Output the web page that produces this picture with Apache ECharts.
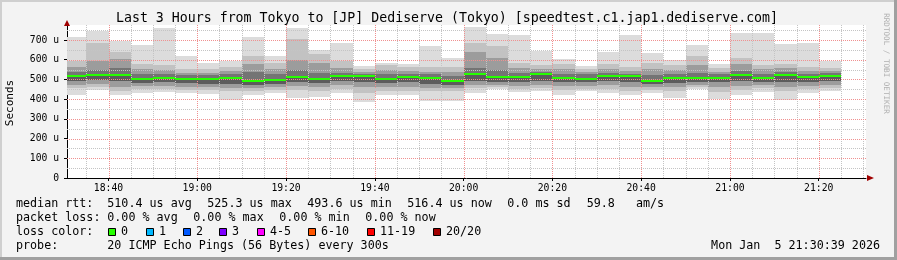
<!DOCTYPE html>
<html><head><meta charset="utf-8">
<script src="https://cdn.jsdelivr.net/npm/echarts@6/dist/echarts.min.js"></script>
<style>html,body{margin:0;padding:0;background:#f3f3f3}#c{width:897px;height:260px}</style>
</head><body><div id="c"></div>
<script>
// ---- data (microseconds) ----
const barStart = ["18:30","18:35","18:40","18:45","18:50","18:55","19:00","19:05","19:10","19:15","19:20","19:25","19:30","19:35","19:40","19:45","19:50","19:55","20:00","20:05","20:10","20:15","20:20","20:25","20:30","20:35","20:40","20:45","20:50","20:55","21:00","21:05","21:10","21:15","21:20"];
const stepMinutes = 5;
const axisStart = "18:30:39", axisEnd = "21:30:39";
const xTickLabels = ["18:40","19:00","19:20","19:40","20:00","20:20","20:40","21:00","21:20"];
const yTickValues = [0,100,200,300,400,500,600,700];
const yTop = 776;
const pingMax = [716,746,695,675,763,619,585,595,716,619,761,648,686,568,585,578,670,607,764,730,725,644,602,566,639,724,634,597,676,576,736,736,678,684,594];
const pingHi2 = [595,685,640,580,575,555,552,565,620,582,705,630,593,552,572,565,565,565,686,670,585,573,580,555,580,563,585,575,620,560,610,572,580,563,560];
const pingHi3 = [565,595,605,555,550,535,535,545,580,555,600,585,560,540,550,545,540,540,640,610,560,555,555,540,555,545,555,550,575,540,580,555,560,545,545];
const pingHi4 = [540,550,560,530,530,520,520,525,540,525,550,535,535,530,525,530,525,515,560,550,535,540,530,525,535,530,520,530,535,525,545,530,540,530,535];
const medianRtt = [518,524,524,503,508,504,503,507,493,498,514,504,517,518,502,514,509,494,526,514,514,526,507,504,516,516,494,505,507,507,524,509,520,510,517];
const pingLo4 = [490,495,490,480,485,480,478,475,470,478,485,480,490,485,480,485,475,470,490,485,485,490,485,485,490,485,475,480,485,485,490,485,485,485,490];
const pingLo3 = [470,475,462,465,465,460,460,455,455,462,465,460,470,460,460,462,455,455,470,470,465,470,465,465,470,462,460,460,470,460,465,470,462,465,470];
const pingLo2 = [455,460,440,450,450,445,445,440,440,448,445,440,450,430,440,440,440,440,455,460,450,455,445,452,450,440,448,440,460,435,445,455,440,450,455];
const pingMin = [423,446,423,433,438,430,425,397,423,429,406,412,433,388,421,421,392,392,433,452,438,443,421,440,433,423,433,406,452,403,419,436,394,433,440];
const lossLabels = ["0","1","2","3","4-5","6-10","11-19","20/20"];
const lossColors = ["#26ff00","#00b8ff","#0059ff","#7e00ff","#ff00ff","#ff5500","#ff0000","#a10000"];

function toMin(s){const p=s.split(':').map(Number);return p[0]*60+p[1]+(p[2]||0)/60;}
function fmtMin(m){const h=Math.floor(m/60),mm=Math.round(m-h*60);return String(h).padStart(2,'0')+':'+String(mm).padStart(2,'0');}
const xMin = toMin(axisStart), xMax = toMin(axisEnd);
const smokeData = barStart.map((t,i)=>[toMin(t), toMin(t)+stepMinutes, pingMin[i], pingLo2[i], pingLo3[i], pingLo4[i], medianRtt[i], pingHi4[i], pingHi3[i], pingHi2[i], pingMax[i]]);
const medData = barStart.map((t,i)=>[toMin(t), toMin(t)+stepMinutes, medianRtt[i]]);
const shades = ['#dcdcdc','#c2c2c2','#9c9c9c','#5c5c5c','#747474','#9c9c9c','#c2c2c2','#dcdcdc'];

const vGrid=[]; for(let m=Math.ceil(xMin/5)*5;m<=xMax;m+=5) vGrid.push([m, m%20===0?1:0]);
const hGrid=[]; for(let v=50;v<=yTop;v+=50) hGrid.push([v, v%100===0?1:0]);

const F='"DejaVu Sans Mono", monospace';
const chart = echarts.init(document.getElementById('c'), null, {renderer:'canvas'});
const txt=(x,y,s,size,opt)=>Object.assign({type:'text',x:x,y:y,silent:true,style:Object.assign({text:s,font:size+'px '+F,fill:'#000',align:'left',verticalAlign:'middle'},opt&&opt.style||{})},opt&&opt.el||{});
const L=11.7;
const graphics=[
  {type:'rect',shape:{x:0,y:0,width:897,height:260},style:{fill:'#f3f3f3'},z:-10},
  {type:'rect',shape:{x:0,y:0,width:897,height:2},style:{fill:'#cfcfcf'},z:-9},
  {type:'rect',shape:{x:0,y:0,width:2,height:260},style:{fill:'#cfcfcf'},z:-9},
  {type:'rect',shape:{x:894,y:0,width:3,height:260},style:{fill:'#a0a0a0'},z:-9},
  {type:'rect',shape:{x:0,y:257,width:897,height:3},style:{fill:'#a0a0a0'},z:-9},
  txt(447,19,"Last 3 Hours from Tokyo to [JP] Dediserve (Tokyo) [speedtest.c1.jap1.dediserve.com]",13.25,{style:{align:'center'}}),
  txt(10.5,103,"Seconds",11,{style:{align:'center'},el:{rotation:Math.PI/2}}),
  txt(886,63.5,"RRDTOOL / TOBI OETIKER",7.6,{style:{align:'center',fill:'#b0b0b0'},el:{rotation:-Math.PI/2}}),
  {type:'polygon',shape:{points:[[64,26],[70,26],[67,20]]},style:{fill:'#a00000'},z:10},
  {type:'polygon',shape:{points:[[867,175],[867,181],[874,178]]},style:{fill:'#a00000'},z:10},
  txt(16,204.3,"median rtt:",L), txt(107.3,204.3,"510.4 us avg",L), txt(207.3,204.3,"525.3 us max",L),
  txt(307.3,204.3,"493.6 us min",L), txt(407.3,204.3,"516.4 us now",L), txt(507.3,204.3,"0.0 ms sd",L), txt(586.7,204.3,"59.8   am/s",L),
  txt(16,218.3,"packet loss:",L), txt(107.3,218.3,"0.00 % avg",L), txt(193.3,218.3,"0.00 % max",L), txt(279.3,218.3,"0.00 % min",L), txt(365.3,218.3,"0.00 % now",L),
  txt(16,232.3,"loss color:",L),
  txt(16,246.3,"probe:",L), txt(107.3,246.3,"20 ICMP Echo Pings (56 Bytes) every 300s",L), txt(880,246.3,"Mon Jan  5 21:30:39 2026",L,{style:{align:'right'}})
];
const swX=[108.3,145.7,182.7,219.3,256.7,308.3,366.7,433.3];
lossLabels.forEach((lab,i)=>{
  graphics.push({type:'rect',shape:{x:Math.round(swX[i])+0.5,y:228.5,width:7,height:7},style:{fill:lossColors[i],stroke:'#000',lineWidth:1}});
  graphics.push(txt(Math.round(swX[i])+13,232.3,lab,L));
});

chart.setOption({
  animation:false,
  backgroundColor:'#f3f3f3',
  graphic:graphics,
  grid:{left:67,right:31,top:25,bottom:82,show:true,backgroundColor:'#ffffff',borderWidth:0},
  xAxis:{type:'value',min:xMin,max:xMax,
    axisLine:{show:true,onZero:false,lineStyle:{color:'#000',width:1}},
    axisTick:{show:true,length:3,customValues:xTickLabels.map(toMin),lineStyle:{color:'#000'}},
    axisLabel:{customValues:xTickLabels.map(toMin),formatter:v=>fmtMin(v),fontFamily:F,fontSize:9.75,color:'#000',margin:5},
    splitLine:{show:false}},
  yAxis:{type:'value',min:0,max:yTop,
    axisLine:{show:true,lineStyle:{color:'#000',width:1}},
    axisTick:{show:true,length:3,customValues:yTickValues,lineStyle:{color:'#000'}},
    axisLabel:{customValues:yTickValues,formatter:v=>v===0?'0':v+' u',fontFamily:F,fontSize:9.7,color:'#000',margin:8},
    splitLine:{show:false}},
  series:[
    {type:'custom',name:'smoke',clip:true,z:1,data:smokeData,silent:true,
      renderItem:(params,api)=>{
        const a=api.value(0),b=api.value(1);const ch=[];
        for(let j=0;j<8;j++){
          const p0=api.coord([a,api.value(2+j)]),p1=api.coord([b,api.value(3+j)]);
          const x0=Math.round(p0[0]),x1=Math.round(p1[0]),y0=Math.round(p0[1]),y1=Math.round(p1[1]);
          ch.push({type:'rect',shape:{x:x0,y:y1,width:x1-x0,height:y0-y1},style:{fill:shades[j]}});
        }
        return {type:'group',children:ch};
      }},
    {type:'custom',name:'vgrid',clip:true,z:2,data:vGrid,silent:true,
      renderItem:(params,api)=>{const cs=params.coordSys;const x=Math.round(api.coord([api.value(0),0])[0])+0.5;
        return {type:'line',shape:{x1:x,y1:cs.y,x2:x,y2:cs.y+cs.height},style:{stroke:api.value(1)?'#f09090':'#c4c4c4',lineWidth:1,lineDash:[1,1]}};}},
    {type:'custom',name:'hgrid',clip:true,z:2,data:hGrid,silent:true,
      renderItem:(params,api)=>{const cs=params.coordSys;const y=Math.round(api.coord([xMin,api.value(0)])[1])+0.5;
        return {type:'line',shape:{x1:cs.x,y1:y,x2:cs.x+cs.width,y2:y},style:{stroke:api.value(1)?'#f09090':'#c4c4c4',lineWidth:1,lineDash:[1,1]}};}},
    {type:'custom',name:'median',clip:true,z:3,data:medData,silent:true,
      renderItem:(params,api)=>{const p0=api.coord([api.value(0),api.value(2)]),p1=api.coord([api.value(1),api.value(2)]);
        const x0=Math.round(p0[0]),x1=Math.round(p1[0]),y=Math.round(p0[1]);
        return {type:'rect',shape:{x:x0,y:y-1,width:x1-x0,height:2},style:{fill:lossColors[0]}};}}
  ]
});
</script></body></html>
